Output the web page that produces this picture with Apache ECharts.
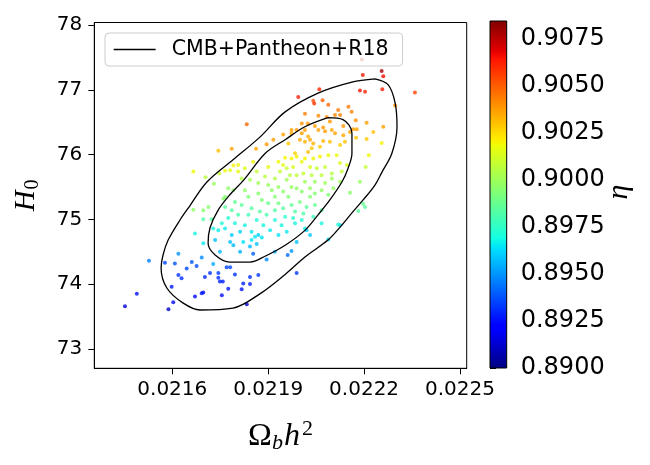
<!DOCTYPE html>
<html>
<head>
<meta charset="utf-8">
<title>H0 vs Omega_b h^2</title>
<script src="https://cdn.jsdelivr.net/npm/echarts@6/dist/echarts.min.js"></script>
<style>
html, body { margin: 0; padding: 0; background: #fff; }
#chart-container { width: 650px; height: 465px; }
</style>
</head>
<body>
<div id="chart-container"></div>
<script>
// axis ticks
var xTicks = [0.0216, 0.0219, 0.0222, 0.0225];
var yTicks = [73, 74, 75, 76, 77, 78];
var etaTicks = [0.8900, 0.8925, 0.8950, 0.8975, 0.9000, 0.9025, 0.9050, 0.9075];
var etaRange = [0.8900, 0.90842];

// 68% and 95% contours, [omega_b h^2, H0]
var contourInner = [
    [0.022087, 76.57], [0.022134, 76.54], [0.022162, 76.33], [0.022162, 76.02], [0.022150, 75.79],
    [0.022131, 75.58], [0.022093, 75.30], [0.022056, 75.07], [0.022015, 74.83], [0.021953, 74.60],
    [0.021890, 74.43], [0.021843, 74.34], [0.021780, 74.34], [0.021734, 74.45], [0.021712, 74.63],
    [0.021718, 74.87], [0.021743, 75.14], [0.021780, 75.38], [0.021824, 75.61], [0.021891, 76.02],
    [0.021953, 76.23], [0.022015, 76.43], [0.022087, 76.57]
];
var contourOuter = [
    [0.022234, 77.17], [0.022275, 77.08], [0.022297, 76.80], [0.022303, 76.43], [0.022287, 76.02],
    [0.022256, 75.73], [0.022234, 75.53], [0.022197, 75.30], [0.022162, 75.10], [0.022125, 74.88],
    [0.022087, 74.68], [0.022015, 74.42], [0.021953, 74.15], [0.021874, 73.85], [0.021790, 73.63],
    [0.021687, 73.60], [0.021633, 73.71], [0.021583, 73.94], [0.021565, 74.25], [0.021571, 74.45],
    [0.021587, 74.68], [0.021624, 74.99], [0.021655, 75.21], [0.021709, 75.58], [0.021790, 75.92],
    [0.021874, 76.27], [0.021953, 76.66], [0.022056, 76.95], [0.022162, 77.12], [0.022234, 77.17]
];

// chain samples: [omega_b h^2, H0, eta]
var chainSamples = [
    [0.022193, 77.47, 0.9076], [0.022196, 77.23, 0.9063], [0.022255, 77.29, 0.9078], [0.022260, 77.21, 0.9065],
    [0.022257, 77.01, 0.9062], [0.022359, 76.96, 0.9055], [0.022060, 77.01, 0.9060], [0.021994, 76.89, 0.9062],
    [0.022187, 76.99, 0.9063], [0.022203, 76.97, 0.9060], [0.022041, 76.83, 0.9052], [0.022044, 76.79, 0.9058],
    [0.022070, 76.84, 0.9050], [0.022088, 76.77, 0.9048], [0.022151, 76.74, 0.9044], [0.022161, 76.66, 0.9042],
    [0.022119, 76.69, 0.9044], [0.022109, 76.61, 0.9041], [0.022125, 76.61, 0.9042], [0.022297, 76.76, 0.9040],
    [0.022015, 76.63, 0.9043], [0.022057, 76.60, 0.9041], [0.022083, 76.58, 0.9040], [0.022093, 76.51, 0.9038],
    [0.022174, 76.53, 0.9040], [0.022208, 76.49, 0.9037], [0.022005, 76.48, 0.9039], [0.022024, 76.48, 0.9038],
    [0.022046, 76.44, 0.9037], [0.022057, 76.38, 0.9036], [0.022015, 76.38, 0.9037], [0.021989, 76.38, 0.9038],
    [0.021973, 76.38, 0.9036], [0.022072, 76.42, 0.9038], [0.022099, 76.38, 0.9035], [0.022135, 76.44, 0.9039],
    [0.022166, 76.39, 0.9037], [0.022177, 76.39, 0.9036], [0.022229, 76.35, 0.9030], [0.022260, 76.43, 0.9036],
    [0.022208, 76.24, 0.9028], [0.022255, 76.18, 0.9020], [0.022175, 76.26, 0.9029], [0.022215, 75.99, 0.9018],
    [0.022205, 75.81, 0.9008], [0.022187, 75.58, 0.8998], [0.022156, 75.41, 0.8995], [0.022203, 75.19, 0.8985],
    [0.022182, 75.13, 0.8984], [0.022197, 75.24, 0.8987], [0.021833, 76.47, 0.9048], [0.021744, 76.06, 0.9030],
    [0.021786, 76.09, 0.9036], [0.021666, 75.74, 0.9018], [0.021704, 75.65, 0.9006], [0.021730, 75.55, 0.8999],
    [0.021747, 75.71, 0.9008], [0.021765, 75.75, 0.9017], [0.021791, 75.83, 0.9019], [0.021806, 75.74, 0.9016],
    [0.021862, 76.09, 0.9036], [0.021895, 76.16, 0.9038], [0.021916, 76.23, 0.9037], [0.021947, 76.31, 0.9036],
    [0.021973, 76.33, 0.9035], [0.022005, 76.33, 0.9037], [0.022025, 76.28, 0.9034], [0.022031, 76.23, 0.9035],
    [0.022015, 76.20, 0.9033], [0.021999, 76.23, 0.9034], [0.022041, 76.17, 0.9033], [0.022078, 76.36, 0.9037],
    [0.022109, 76.33, 0.9036], [0.022135, 76.30, 0.9035], [0.022140, 76.20, 0.9030], [0.022093, 76.20, 0.9030],
    [0.022072, 76.21, 0.9033], [0.022062, 76.12, 0.9028], [0.022036, 76.10, 0.9029], [0.022025, 76.04, 0.9031],
    [0.022125, 76.15, 0.9028], [0.022156, 76.35, 0.9036], [0.021963, 76.17, 0.9029], [0.021984, 76.02, 0.9027],
    [0.021973, 75.94, 0.9020], [0.021989, 75.97, 0.9021], [0.021953, 75.95, 0.9019], [0.021932, 75.89, 0.9018],
    [0.022005, 75.89, 0.9017], [0.022015, 75.94, 0.9019], [0.022041, 75.94, 0.9018], [0.022062, 75.97, 0.9020],
    [0.022088, 75.99, 0.9018], [0.022114, 75.99, 0.9017], [0.021900, 75.81, 0.9016], [0.021947, 75.84, 0.9015],
    [0.021958, 75.79, 0.9009], [0.021978, 75.81, 0.9014], [0.022031, 75.81, 0.9013], [0.022052, 75.79, 0.9008],
    [0.022078, 75.81, 0.9009], [0.022125, 75.87, 0.9015], [0.022146, 75.84, 0.9014], [0.021806, 75.84, 0.9017],
    [0.021853, 75.89, 0.9018], [0.021781, 75.76, 0.9015], [0.021827, 75.79, 0.9014], [0.021864, 75.74, 0.9008],
    [0.021937, 75.74, 0.9008], [0.021968, 75.68, 0.9006], [0.021989, 75.68, 0.9007], [0.022010, 75.71, 0.9008],
    [0.022036, 75.68, 0.9006], [0.022067, 75.68, 0.9007], [0.022099, 75.71, 0.9006], [0.022130, 75.74, 0.9008],
    [0.022099, 75.63, 0.9000], [0.021890, 75.66, 0.9006], [0.021921, 75.63, 0.9005], [0.021958, 75.61, 0.9001],
    [0.022015, 75.58, 0.9000], [0.022046, 75.58, 0.8999], [0.022078, 75.56, 0.9000], [0.022125, 75.58, 0.8999],
    [0.021817, 75.63, 0.9005], [0.021843, 75.61, 0.9001], [0.021869, 75.56, 0.9000], [0.021900, 75.53, 0.8999],
    [0.021932, 75.50, 0.8998], [0.021973, 75.50, 0.8999], [0.021989, 75.48, 0.8997], [0.022031, 75.48, 0.8998],
    [0.022067, 75.45, 0.8997], [0.022104, 75.48, 0.8998], [0.021775, 75.48, 0.8997], [0.021791, 75.45, 0.8996],
    [0.021827, 75.45, 0.8997], [0.021911, 75.45, 0.8996], [0.021947, 75.43, 0.8996], [0.022005, 75.43, 0.8995],
    [0.022046, 75.40, 0.8994], [0.021765, 75.35, 0.8994], [0.021838, 75.35, 0.8993], [0.021869, 75.40, 0.8995],
    [0.021921, 75.35, 0.8994], [0.021963, 75.35, 0.8993], [0.022031, 75.35, 0.8994], [0.022088, 75.38, 0.8993],
    [0.021796, 75.27, 0.8986], [0.021817, 75.22, 0.8985], [0.021880, 75.30, 0.8992], [0.021900, 75.25, 0.8987],
    [0.021932, 75.25, 0.8990], [0.021973, 75.22, 0.8986], [0.021999, 75.27, 0.8991], [0.022020, 75.19, 0.8985],
    [0.022046, 75.22, 0.8986], [0.021765, 75.19, 0.8985], [0.021786, 75.14, 0.8983], [0.021848, 75.17, 0.8984],
    [0.021874, 75.12, 0.8983], [0.021921, 75.14, 0.8982], [0.021947, 75.17, 0.8984], [0.021984, 75.12, 0.8983],
    [0.022010, 75.09, 0.8982], [0.022067, 75.14, 0.8983], [0.021806, 75.07, 0.8980], [0.021838, 75.07, 0.8979],
    [0.021895, 75.07, 0.8980], [0.021953, 75.04, 0.8974], [0.021978, 75.02, 0.8973], [0.021775, 75.02, 0.8972],
    [0.021864, 74.99, 0.8972], [0.021921, 74.99, 0.8971], [0.022005, 74.99, 0.8972], [0.022041, 75.04, 0.8978],
    [0.021796, 74.94, 0.8970], [0.021827, 74.91, 0.8969], [0.021885, 74.91, 0.8970], [0.021942, 74.91, 0.8969],
    [0.021984, 74.94, 0.8970], [0.021765, 74.86, 0.8967], [0.021812, 74.81, 0.8961], [0.021848, 74.81, 0.8966],
    [0.021906, 74.83, 0.8967], [0.021958, 74.81, 0.8966], [0.022015, 74.86, 0.8968], [0.022067, 74.94, 0.8970],
    [0.021786, 74.76, 0.8960], [0.021869, 74.76, 0.8960], [0.021932, 74.76, 0.8964], [0.022020, 74.83, 0.8961],
    [0.022031, 74.76, 0.8960], [0.022125, 74.91, 0.8962],
    [0.021697, 75.14, 0.8996], [0.021713, 75.19, 0.8995], [0.021666, 75.15, 0.8996], [0.021760, 75.32, 0.8995],
    [0.021723, 75.00, 0.8984], [0.021697, 75.00, 0.8983], [0.021755, 74.94, 0.8972], [0.021728, 74.86, 0.8970],
    [0.021744, 74.83, 0.8968], [0.021671, 74.78, 0.8970], [0.021697, 74.63, 0.8966], [0.021734, 74.68, 0.8958],
    [0.021749, 74.50, 0.8957], [0.021619, 74.47, 0.8950], [0.021577, 74.33, 0.8936], [0.021608, 74.32, 0.8938],
    [0.021661, 74.34, 0.8938], [0.021692, 74.41, 0.8948], [0.021728, 74.31, 0.8954], [0.021645, 74.24, 0.8935],
    [0.021676, 74.28, 0.8936], [0.021619, 74.14, 0.8932], [0.021629, 74.09, 0.8931], [0.021718, 74.17, 0.8932],
    [0.021744, 74.17, 0.8934], [0.021702, 74.11, 0.8930], [0.021744, 74.10, 0.8931], [0.021749, 74.04, 0.8929],
    [0.021758, 74.04, 0.8928], [0.021598, 73.96, 0.8927], [0.021692, 73.86, 0.8925], [0.021697, 73.87, 0.8924],
    [0.021671, 73.81, 0.8922], [0.021755, 73.83, 0.8923], [0.021603, 73.72, 0.8922], [0.021588, 73.61, 0.8912],
    [0.021452, 73.66, 0.8913], [0.021489, 73.85, 0.8924], [0.021527, 74.36, 0.8945],
    [0.021781, 74.65, 0.8958], [0.021791, 74.60, 0.8957], [0.021822, 74.65, 0.8964], [0.021848, 74.68, 0.8965],
    [0.021859, 74.73, 0.8966], [0.021880, 74.72, 0.8965], [0.021843, 74.58, 0.8956], [0.021812, 74.50, 0.8955],
    [0.021770, 74.26, 0.8935], [0.021781, 74.26, 0.8936], [0.021796, 74.15, 0.8932], [0.021822, 74.01, 0.8929],
    [0.021843, 74.11, 0.8931], [0.021869, 74.14, 0.8933], [0.021843, 74.00, 0.8928], [0.021775, 73.93, 0.8926],
    [0.021817, 73.92, 0.8925], [0.021833, 73.69, 0.8914], [0.021895, 74.38, 0.8948], [0.021921, 74.50, 0.8956],
    [0.021864, 74.62, 0.8958], [0.021853, 74.47, 0.8940],
    [0.021989, 74.65, 0.8958], [0.022088, 74.69, 0.8962], [0.021973, 74.51, 0.8950], [0.021961, 74.45, 0.8942],
    [0.021989, 74.17, 0.8933], [0.022119, 74.92, 0.8972]
];

// jet colormap
var jetColors = [
    '#000080', '#0000b9', '#0000f3', '#001aff', '#004dff', '#0080ff', '#00b3ff', '#00e5f7',
    '#29ffce', '#52ffa4', '#7bff7b', '#a4ff52', '#ceff29', '#f7f500', '#ffc600', '#ff9700',
    '#ff6800', '#ff3900', '#f30900', '#b90000', '#800000'
];
var jetStops = [
    [0, '#000080'], [0.11, '#0000ff'], [0.125, '#0000ff'], [0.34, '#00dbff'], [0.35, '#00e5f7'],
    [0.375, '#14ffe2'], [0.5, '#7bff7b'], [0.64, '#eeff08'], [0.65, '#f7f500'], [0.66, '#ffec00'],
    [0.89, '#ff1300'], [0.91, '#e80000'], [1, '#800000']
];

var dom = document.getElementById("chart-container");
var myChart = echarts.init(dom, null, { renderer: "canvas" });

var tickFont = "DejaVu Sans";
var mathFont = "Liberation Serif";

var option = {
    animation: false,
    backgroundColor: "#fff",
    grid: [
        { left: 94.3, right: 183.3, top: 22.5, bottom: 96.7, show: true, borderColor: "#000", borderWidth: 1, outerBoundsMode: "none" },
        { left: 490, width: 16.7, top: 21, bottom: 97, outerBoundsMode: "none" }
    ],
    // colorbar label
    graphic: [
        {
            type: "text",
            x: 619,
            y: 192,
            rotation: Math.PI / 2,
            style: {
                text: "η",
                font: "italic 30px 'Liberation Serif'",
                fill: "#000",
                align: "center",
                verticalAlign: "middle"
            }
        }
    ],
    legend: {
        data: ["CMB+Pantheon+R18"],
        left: 105,
        top: 33,
        itemWidth: 42,
        itemHeight: 14,
        padding: [6, 14, 6, 8],
        backgroundColor: "rgba(255,255,255,0.8)",
        borderColor: "#cccccc",
        borderWidth: 1,
        borderRadius: 4,
        z: 10,
        itemStyle: { opacity: 0 },
        lineStyle: { color: "#000", width: 1.3 },
        textStyle: { fontFamily: tickFont, fontSize: 20.5, color: "#000", padding: [0, 0, 0, 11] }
    },
    visualMap: {
        type: "continuous",
        show: false,
        seriesIndex: 0,
        dimension: 2,
        min: etaRange[0],
        max: etaRange[1],
        inRange: { color: jetColors }
    },
    xAxis: [
        {
            gridIndex: 0,
            type: "value",
            min: 0.021356,
            max: 0.022521,
            splitLine: { show: false },
            axisLine: { show: true, onZero: false, lineStyle: { color: "#000", width: 1 } },
            axisTick: { show: true, length: 6, customValues: xTicks, lineStyle: { color: "#000" } },
            axisLabel: {
                customValues: xTicks,
                formatter: function (v) { return v.toFixed(4); },
                fontFamily: tickFont, fontSize: 20, color: "#000", margin: 11
            },
            name: "{o|Ω}{s|b}{i|h}{p|2}",
            nameLocation: "middle",
            nameGap: 50,
            nameTextStyle: {
                color: "#000",
                rich: {
                    o: { fontFamily: mathFont, fontSize: 32, color: "#000" },
                    s: { fontFamily: mathFont, fontStyle: "italic", fontSize: 22, color: "#000", padding: [14, 1, 0, 0] },
                    i: { fontFamily: mathFont, fontStyle: "italic", fontSize: 32, color: "#000" },
                    p: { fontFamily: mathFont, fontSize: 22, color: "#000", padding: [0, 0, 14, 2] }
                }
            }
        },
        { gridIndex: 1, type: "value", min: 0, max: 1, show: false }
    ],
    yAxis: [
        {
            gridIndex: 0,
            type: "value",
            min: 72.70,
            max: 78.04,
            splitLine: { show: false },
            axisLine: { show: true, onZero: false, lineStyle: { color: "#000", width: 1 } },
            axisTick: { show: true, length: 6, customValues: yTicks, lineStyle: { color: "#000" } },
            axisLabel: {
                customValues: yTicks,
                formatter: function (v) { return String(Math.round(v)); },
                fontFamily: tickFont, fontSize: 20, color: "#000", margin: 12
            },
            name: "{i|H}{s|0}",
            nameLocation: "middle",
            nameRotate: 90,
            nameGap: 52,
            nameTextStyle: {
                rich: {
                    i: { fontFamily: mathFont, fontStyle: "italic", fontSize: 29, color: "#000" },
                    s: { fontFamily: mathFont, fontSize: 20, color: "#000", padding: [12, 0, 0, 1] }
                }
            }
        },
        {
            gridIndex: 1,
            type: "value",
            position: "right",
            min: etaRange[0],
            max: etaRange[1],
            splitLine: { show: false },
            axisLine: { show: false },
            axisTick: { show: true, length: 6, customValues: etaTicks, lineStyle: { color: "#000" } },
            axisLabel: {
                customValues: etaTicks,
                formatter: function (v) { return v.toFixed(4); },
                fontFamily: tickFont, fontSize: 24, color: "#000", margin: 14
            }
        }
    ],
    series: [
        {
            type: "scatter",
            xAxisIndex: 0,
            yAxisIndex: 0,
            symbolSize: 4,
            data: chainSamples,
            encode: { x: 0, y: 1 },
            z: 2
        },
        {
            name: "CMB+Pantheon+R18",
            type: "line",
            xAxisIndex: 0,
            yAxisIndex: 0,
            data: contourOuter,
            smooth: 0.35,
            symbol: "none",
            color: "#000",
            lineStyle: { color: "#000", width: 1.3 },
            z: 3
        },
        {
            name: "CMB+Pantheon+R18",
            type: "line",
            xAxisIndex: 0,
            yAxisIndex: 0,
            data: contourInner,
            smooth: 0.35,
            symbol: "none",
            color: "#000",
            lineStyle: { color: "#000", width: 1.3 },
            z: 3
        },
        {
            type: "custom",
            xAxisIndex: 1,
            yAxisIndex: 1,
            silent: true,
            data: [etaRange],
            encode: { y: [0, 1] },
            renderItem: function (params, api) {
                var p0 = api.coord([0, api.value(0)]);
                var p1 = api.coord([1, api.value(1)]);
                return {
                    type: "rect",
                    shape: { x: p0[0], y: p1[1], width: p1[0] - p0[0], height: p0[1] - p1[1] },
                    style: {
                        fill: new echarts.graphic.LinearGradient(0, 1, 0, 0, jetStops.map(function (s) {
                            return { offset: s[0], color: s[1] };
                        })),
                        stroke: "#000",
                        lineWidth: 1
                    }
                };
            }
        }
    ]
};

if (option && typeof option === "object") {
    myChart.setOption(option);
}
window.addEventListener("resize", myChart.resize);
</script>
</body>
</html>
